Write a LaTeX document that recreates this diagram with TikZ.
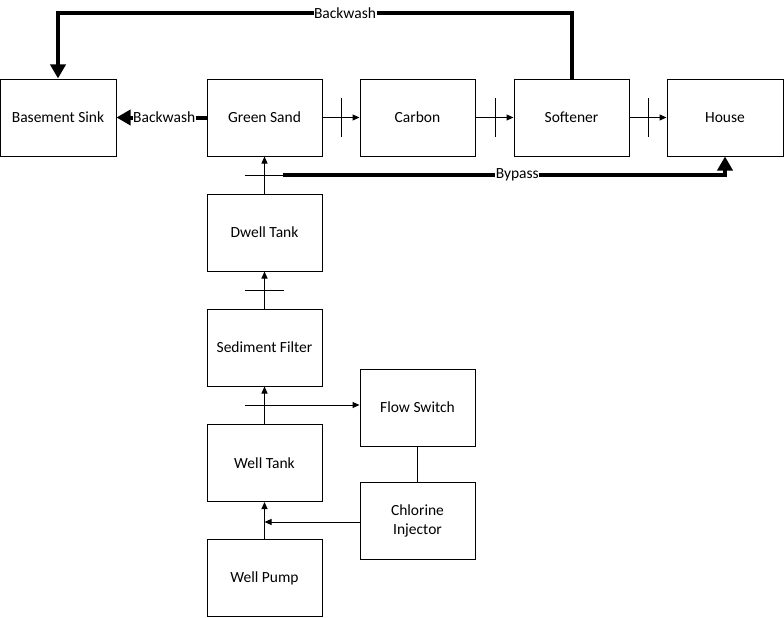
\documentclass[tikz,border=0pt]{standalone}
\usepackage{fontspec}
\setmainfont{Carlito}
\usetikzlibrary{arrows.meta,calc}
\begin{document}
\begin{tikzpicture}[x=1pt,y=-1pt,
  box/.style={draw,line width=1pt,minimum width=115pt,minimum height=77pt,inner sep=0pt,align=center,font=\fontsize{15.5}{19}\selectfont},
  flow/.style={line width=1pt,-{Triangle[length=7pt,width=6pt]}},
  plain/.style={line width=1pt},
  heavy/.style={line width=4pt},
  heavyarrow/.style={line width=4pt,-{Triangle[length=14pt,width=15pt]}},
  lbl/.style={fill=white,inner sep=0.5pt,font=\fontsize{15.5}{19}\selectfont}]
\useasboundingbox (0,0) rectangle (784,618);
% boxes
\node[box,minimum width=116pt] (sink) at (58,117.5) {Basement Sink};
\node[box] (green) at (264.5,117.5) {Green Sand};
\node[box] (carbon) at (417.5,117.5) {Carbon};
\node[box] (soft) at (571.5,117.5) {Softener};
\node[box,minimum width=116pt] (house) at (725,117.5) {House};
\node[box] (dwell) at (264.5,232.5) {Dwell Tank};
\node[box] (sed) at (264.5,347.5) {Sediment Filter};
\node[box] (flowsw) at (417.5,407.5) {Flow Switch};
\node[box] (tank) at (264.5,463) {Well Tank};
\node[box] (chlor) at (417.5,520.5) {Chlorine\\Injector};
\node[box] (pump) at (264.5,578) {Well Pump};
% coordinates
\coordinate (v1) at (264.5,175);
\coordinate (bp) at (283,175);
\coordinate (v2) at (264.5,290);
\coordinate (fs) at (245,405);
\coordinate (cj) at (264.5,522);
\coordinate (top) at (345,13);
% main flow
\draw[flow] (green.east) -- (carbon.west);
\draw[flow] (carbon.east) -- (soft.west);
\draw[flow] (soft.east) -- (house.west);
\draw[plain] ([xshift=19pt]green.east) ++(0,-19.5) -- ++(0,39);
\draw[plain] ([xshift=19.5pt]carbon.east) ++(0,-19.5) -- ++(0,39);
\draw[plain] ([xshift=19pt]soft.east) ++(0,-19.5) -- ++(0,39);
% vertical flow
\draw[flow] (dwell.north) -- (green.south);
\draw[plain] ([xshift=-19.5pt]v1) -- ([xshift=19.5pt]v1);
\draw[flow] (sed.north) -- (dwell.south);
\draw[plain] ([xshift=-19.5pt]v2) -- ([xshift=19.5pt]v2);
\draw[flow] (tank.north) -- (sed.south);
\draw[flow] (fs) -- (fs -| flowsw.west);
\draw[plain] (flowsw.south) -- (chlor.north);
\draw[flow] (cj -| chlor.west) -- (cj);
\draw[flow] (pump.north) -- (tank.south);
% bypass
\draw[heavyarrow] (bp) -| node[lbl,pos=0.265] {Bypass} (house.south);
% backwash
\draw[heavyarrow] (green.west) -- node[lbl,pos=0.47] {Backwash} (sink.east);
\draw[heavy] (soft.north) -- (soft.north |- top) -- (top);
\draw[heavyarrow] (top) -- (sink.north |- top) -- (sink.north);
\node[lbl] (bwlabel) at (top) {Backwash};
\end{tikzpicture}
\end{document}
